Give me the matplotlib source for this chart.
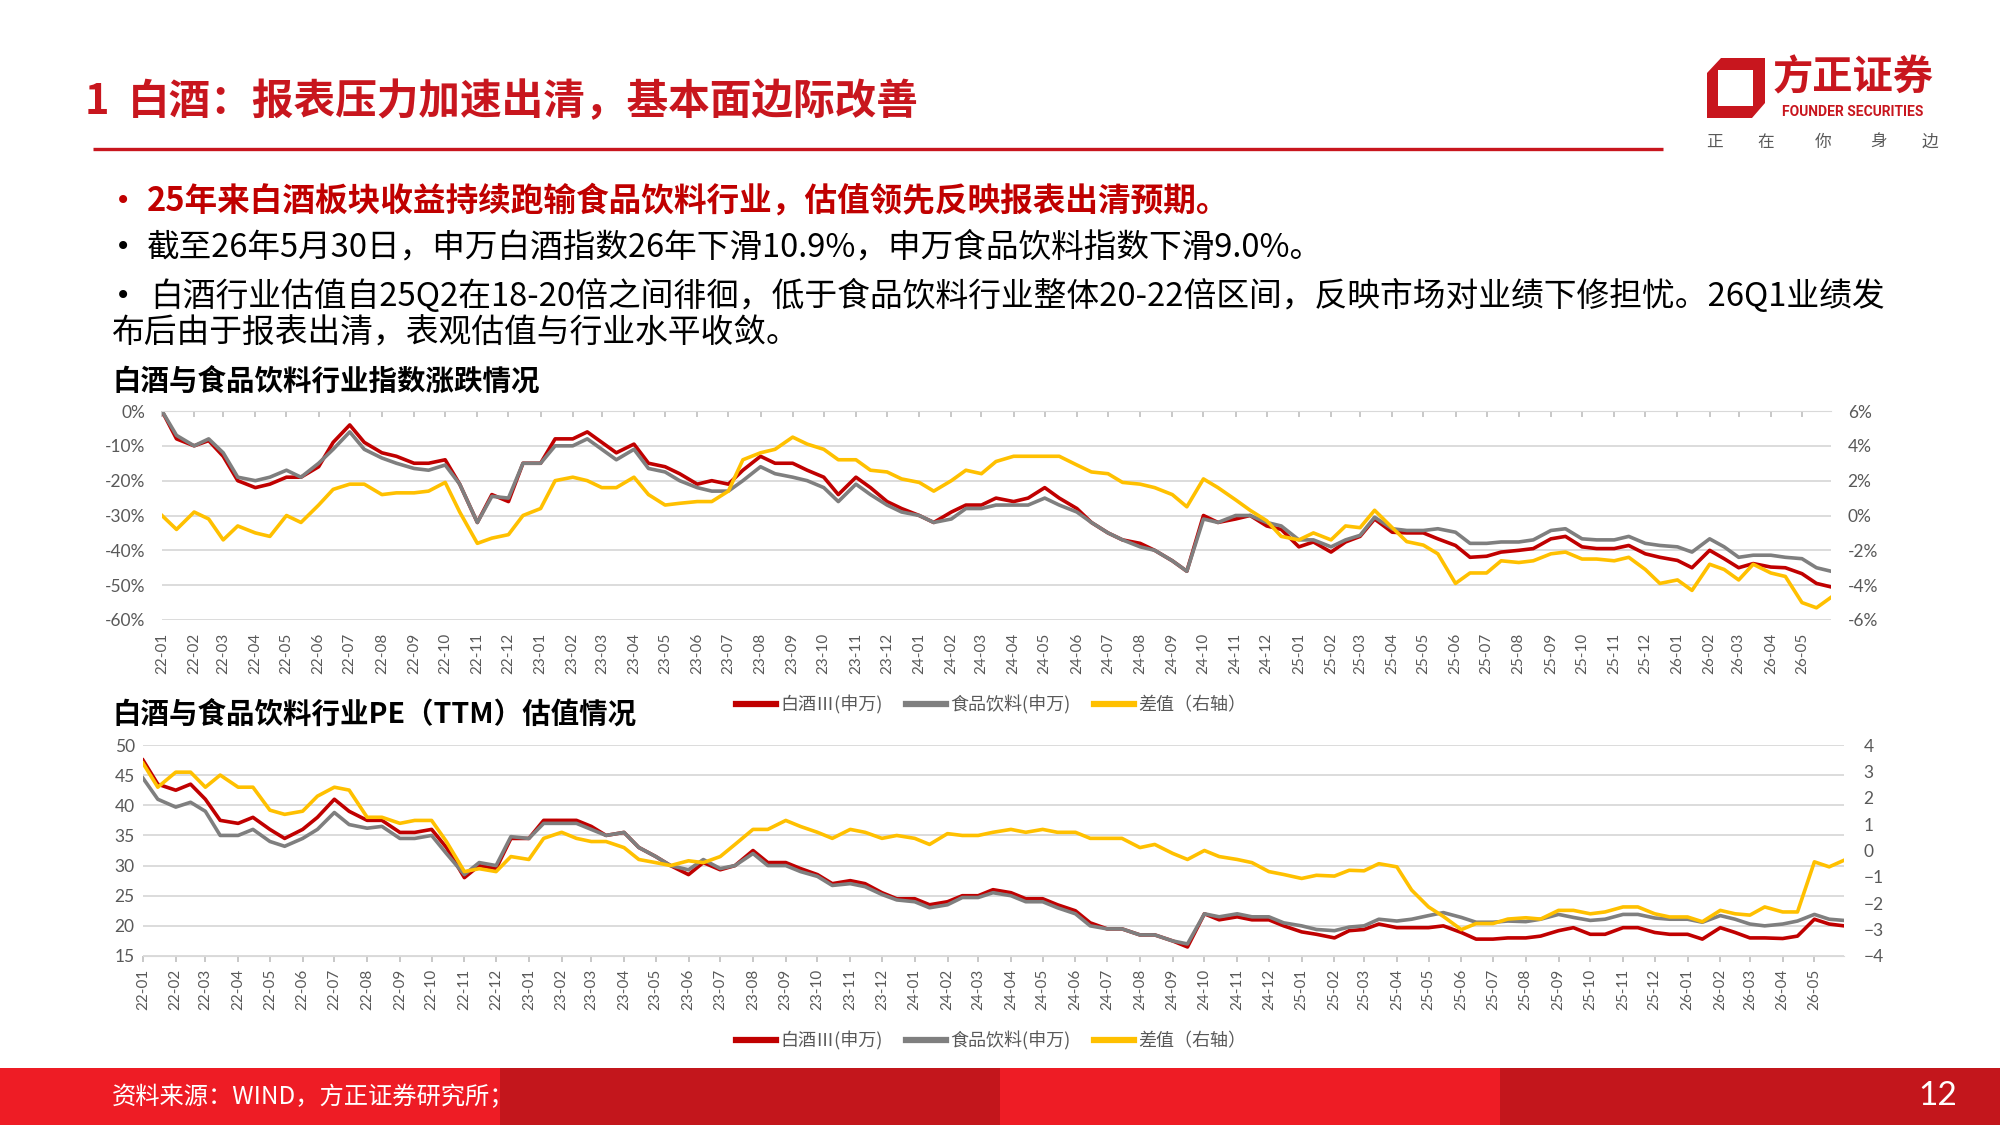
import numpy as np
import pandas as pd
import matplotlib
matplotlib.use('Agg')
from matplotlib import pyplot as plt
from matplotlib.lines import Line2D
from matplotlib.patches import Rectangle, Polygon
import matplotlib.ticker as mticker

plt.rcParams['font.family'] = ['Noto Sans CJK SC', 'DejaVu Sans']

# 半月取点：每月1日、15日，最后一个点是5月29日
dates = list(pd.date_range('2022-01-01', '2026-05-31', freq='SMS')) + [pd.Timestamp('2026-05-29')]
month_ticks = pd.date_range('2022-01-01', '2026-05-01', freq='MS')
month_labels = [d.strftime('%y-%m') for d in month_ticks]

# 图1：指数涨跌（%），差值为右轴
idx_baijiu = [0, -8, -10, -8.5, -13, -20, -22, -21, -19, -19, -16, -9, -4, -9, -12, -13, -15, -15, -14, -21, -32, -24, -26, -15,
              -15, -8, -8, -6, -9, -12, -9.5, -15, -16, -18, -21, -20, -21, -17, -13, -15, -15, -17, -19, -24, -19, -22, -26, -28,
              -30, -32, -29, -27, -27, -25, -26, -25, -22, -25, -28, -32, -35, -37, -38, -40, -43, -46, -30, -32, -31, -30, -33, -34,
              -39, -37.6, -40.5, -37.6, -36, -31, -34.8, -35, -35, -36.7, -38.6, -42, -41.7, -40.5, -40, -39.5, -36.7, -36, -39, -39.5, -39.5, -38.6, -41, -42,
              -42.9, -45, -40, -42.4, -45, -43.8, -44.8, -45, -46.7, -49.5, -50.5]
idx_food = [0, -7, -10, -8, -12, -19, -20, -19, -17, -19, -15, -11, -6, -11, -13.5, -15, -16.5, -17, -15.5, -21, -32, -24.5, -25, -15,
            -15, -10, -10, -8, -11, -14, -11, -16.5, -17.5, -20, -22, -23, -23, -20, -16, -18, -19, -20, -22, -26, -21, -24, -27, -29,
            -30, -32, -31, -28, -28, -27, -27, -27, -25, -27, -29, -32, -35, -37, -39, -40, -43, -46, -31, -32, -30, -30, -32, -33,
            -37, -37, -39, -37, -35.7, -30.5, -33.8, -34.3, -34.3, -33.8, -34.8, -38, -38, -37.6, -37.6, -37, -34.3, -33.8, -36.7, -37, -37, -36, -38, -38.6,
            -39, -40.5, -36.7, -39, -42, -41.4, -41.4, -42, -42.4, -45, -46]
idx_diff = [0, -0.8, 0.2, -0.2, -1.4, -0.6, -1.0, -1.2, 0, -0.4, 0.6, 1.5, 1.8, 1.8, 1.2, 1.3, 1.3, 1.4, 1.9, 0.2, -1.6, -1.3, -1.1, 0,
            0.4, 2.0, 2.2, 2.0, 1.6, 1.6, 2.2, 1.2, 0.6, 0.7, 0.8, 0.8, 1.4, 3.2, 3.6, 3.8, 4.5, 4.1, 3.8, 3.2, 3.2, 2.6, 2.5, 2.1,
            1.9, 1.4, 2.0, 2.6, 2.4, 3.1, 3.4, 3.4, 3.4, 3.4, 2.9, 2.5, 2.4, 1.9, 1.8, 1.6, 1.2, 0.5, 2.1, 1.6, 0.9, 0.3, -0.3, -1.2,
            -1.4, -1.0, -1.4, -0.6, -0.7, 0.3, -0.7, -1.5, -1.7, -2.2, -3.9, -3.3, -3.3, -2.6, -2.7, -2.6, -2.2, -2.1, -2.5, -2.5, -2.6, -2.4, -3.1, -3.9,
            -3.7, -4.3, -2.8, -3.1, -3.7, -2.8, -3.3, -3.5, -5.0, -5.3, -4.7]

# 图2：PE(TTM)，差值为右轴
pe_baijiu = [47.5, 43.5, 42.5, 43.5, 41, 37.5, 37, 38, 36, 34.5, 36, 38, 41, 39, 37.5, 37.5, 35.5, 35.5, 36, 33, 28, 30, 29.5, 34.5,
             34.5, 37.5, 37.5, 37.5, 36.5, 35, 35.5, 33, 31.5, 30, 28.5, 30.5, 29.3, 30, 32.5, 30.5, 30.5, 29.5, 28.5, 27, 27.5, 27, 25.5, 24.5,
             24.5, 23.5, 24, 25, 25, 26, 25.5, 24.5, 24.5, 23.5, 22.5, 20.5, 19.5, 19.5, 18.5, 18.5, 17.5, 16.5, 22, 21, 21.5, 21, 21, 20,
             19, 18.6, 18, 19.2, 19.4, 20.3, 19.7, 19.7, 19.7, 20, 18.9, 17.8, 17.8, 18, 18, 18.3, 19.2, 19.7, 18.6, 18.6, 19.7, 19.7, 18.9, 18.6,
             18.6, 17.8, 19.7, 18.9, 18, 18, 17.9, 18.3, 21.1, 20.3, 20]
pe_food = [44.5, 41, 39.7, 40.5, 39, 35, 35, 36, 34, 33.2, 34.5, 36, 38.8, 36.8, 36.2, 36.5, 34.5, 34.5, 35, 32, 28.5, 30.5, 30, 34.8,
           34.5, 37, 37, 37, 36, 35, 35.5, 33, 31.5, 30, 29.3, 31, 29.5, 30, 32, 30, 30, 29, 28.2, 26.7, 27, 26.5, 25.2, 24.3,
           24, 23, 23.5, 24.7, 24.7, 25.5, 25, 24, 24, 23, 22, 20, 19.5, 19.5, 18.5, 18.5, 17.5, 17, 22, 21.5, 22, 21.5, 21.5, 20.5,
           20, 19.4, 19.2, 19.8, 20, 21.1, 20.8, 21.1, 21.7, 22.2, 21.4, 20.6, 20.6, 20.8, 20.7, 21.1, 21.9, 21.4, 20.9, 21.1, 21.9, 21.9, 21.3, 21.1,
           21.1, 20.6, 21.7, 21.1, 20.3, 20, 20.3, 20.8, 21.9, 21.1, 20.9]
pe_diff = [3.31, 2.4, 2.97, 2.97, 2.4, 2.86, 2.4, 2.4, 1.53, 1.37, 1.49, 2.06, 2.4, 2.29, 1.26, 1.26, 1.03, 1.14, 1.14, 0.34, -0.8, -0.69, -0.8, -0.23,
           -0.34, 0.46, 0.69, 0.46, 0.34, 0.34, 0.11, -0.34, -0.46, -0.57, -0.39, -0.46, -0.23, 0.23, 0.8, 0.8, 1.14, 0.91, 0.69, 0.46, 0.8, 0.69, 0.46, 0.57,
           0.46, 0.23, 0.64, 0.57, 0.57, 0.69, 0.8, 0.69, 0.8, 0.69, 0.69, 0.46, 0.46, 0.46, 0.11, 0.23, -0.11, -0.34, 0, -0.23, -0.34, -0.46, -0.8, -0.91,
           -1.06, -0.94, -0.97, -0.75, -0.77, -0.5, -0.62, -1.5, -2.14, -2.5, -3.0, -2.77, -2.77, -2.6, -2.55, -2.6, -2.27, -2.27, -2.4, -2.33, -2.14, -2.14, -2.4, -2.52,
           -2.52, -2.7, -2.27, -2.4, -2.45, -2.14, -2.33, -2.33, -0.43, -0.62, -0.37]

legend_labels = ['白酒Ⅲ(申万)', '食品饮料(申万)', '差值（右轴）']

RED = '#C00000'
GRAY = '#7F7F7F'
YEL = '#FFC000'
TXT = '#595959'
GRID = '#D9D9D9'
BRAND = '#C8161E'

W, H = 2000, 1125
fig = plt.figure(figsize=(20, 11.25), dpi=100)
fig.patch.set_facecolor('white')

# 页面背景层，像素坐标
bg = fig.add_axes([0, 0, 1, 1], zorder=0)
bg.set_xlim(0, W)
bg.set_ylim(H, 0)
bg.axis('off')

bg.text(85, 102, '1', color=BRAND, fontsize=30, fontweight='bold', va='center')
bg.text(128, 102, '白酒：报表压力加速出清，基本面边际改善', color=BRAND, fontsize=30,
        fontweight='bold', va='center')
bg.plot([93, 1663], [149, 149], color=BRAND, lw=2.4, solid_capstyle='butt')

# logo
bg.add_patch(Polygon([(1721, 58), (1765, 58), (1765, 103), (1752, 118), (1707, 118), (1707, 73)],
                     closed=True, color=BRAND, lw=0))
bg.add_patch(Rectangle((1718, 70), 35, 36, color='white', lw=0))
bg.text(1853, 78, '方正证券', color=BRAND, fontsize=29, fontweight='bold', ha='center', va='center')
bg.text(1853, 112, 'FOUNDER SECURITIES', color=BRAND, fontsize=10, fontweight='bold', ha='center',
        va='center', family='Roboto')
for cx, ch in zip([1714, 1766, 1823, 1879, 1930], '正在你身边'):
    bg.text(cx, 142, ch, color=TXT, fontsize=12, ha='center', va='center')

# 要点
bg.text(115, 201, '•', color=RED, fontsize=20, va='center', family='DejaVu Sans')
bg.text(147, 201, '25年来白酒板块收益持续跑输食品饮料行业，估值领先反映报表出清预期。', color=RED,
        fontsize=23.5, fontweight='bold', va='center')
bg.text(115, 247, '•', color='black', fontsize=20, va='center', family='DejaVu Sans')
bg.text(147, 247, '截至26年5月30日，申万白酒指数26年下滑10.9%，申万食品饮料指数下滑9.0%。', color='black',
        fontsize=23.5, va='center')
bg.text(115, 296, '•', color='black', fontsize=20, va='center', family='DejaVu Sans')
bg.text(150, 296, '白酒行业估值自25Q2在18-20倍之间徘徊，低于食品饮料行业整体20-22倍区间，反映市场对业绩下修担忧。26Q1业绩发',
        color='black', fontsize=23.6, va='center')
bg.text(112, 333, '布后由于报表出清，表观估值与行业水平收敛。', color='black', fontsize=23.6, va='center')

bg.text(112, 381, '白酒与食品饮料行业指数涨跌情况', color='black', fontsize=20.5, fontweight='bold', va='center')
bg.text(112, 714, '白酒与食品饮料行业PE（TTM）估值情况', color='black', fontsize=20.5, fontweight='bold', va='center')

# 底部色带
for i, c in enumerate(['#EE1C25', '#C3161C', '#EE1C25', '#C3161C']):
    bg.add_patch(Rectangle((i * 500, 1068), 500, 57, color=c, lw=0))
bg.text(112, 1097, '资料来源：WIND，方正证券研究所；', color='white', fontsize=17.5, va='center')
bg.text(1938, 1096, '12', color='white', fontsize=24, ha='center', va='center', family='Lato')


def style_axes(ax, axr, xtop):
    ax.set_facecolor('none')
    for s in ax.spines.values():
        s.set_visible(False)
    for s in axr.spines.values():
        s.set_visible(False)
    ax.yaxis.grid(True, color=GRID, lw=1.3)
    ax.set_axisbelow(True)
    ax.set_xticks(month_ticks)
    ax.set_xticklabels(month_labels, rotation=90)
    ax.set_xlim(pd.Timestamp('2022-01-01'), pd.Timestamp('2026-05-29'))
    if xtop:
        ax.spines['top'].set_visible(True)
        ax.spines['top'].set_color(GRID)
        ax.tick_params(axis='x', top=True, bottom=False, labeltop=False, labelbottom=True,
                       direction='in', length=4, width=1.2, color='#BFBFBF', pad=9.5)
    else:
        ax.spines['bottom'].set_visible(True)
        ax.spines['bottom'].set_color(GRID)
        ax.tick_params(axis='x', direction='out', length=4, width=1.2, color='#BFBFBF', pad=5)
    ax.tick_params(axis='x', labelsize=11, labelcolor=TXT, labelfontfamily='Lato')
    ax.tick_params(axis='y', length=0, labelsize=12.5, labelcolor=TXT, labelfontfamily='Lato')
    axr.tick_params(axis='y', length=0, labelsize=12.5, labelcolor=TXT, labelfontfamily='Lato')


pct = mticker.FuncFormatter(lambda v, p: f'{int(round(v))}%')

# 图1
ax1 = fig.add_axes([162 / W, 1 - 620 / H, (1831 - 162) / W, (620 - 411) / H], zorder=2)
ax1r = ax1.twinx()
ax1.plot(dates, idx_baijiu, color=RED, lw=2.6, solid_joinstyle='round')
ax1.plot(dates, idx_food, color=GRAY, lw=2.6, solid_joinstyle='round')
ax1r.plot(dates, idx_diff, color=YEL, lw=2.6, solid_joinstyle='round')
ax1.set_ylim(-60, 0)
ax1.set_yticks(range(-60, 1, 10))
ax1.yaxis.set_major_formatter(pct)
ax1r.set_ylim(-6, 6)
ax1r.set_yticks(range(-6, 7, 2))
ax1r.yaxis.set_major_formatter(pct)
style_axes(ax1, ax1r, True)
ax1.tick_params(axis='y', pad=12)
ax1r.tick_params(axis='y', pad=12)

# 图2
ax2 = fig.add_axes([143 / W, 1 - 956 / H, (1844 - 143) / W, (956 - 745) / H], zorder=2)
ax2r = ax2.twinx()
ax2.plot(dates, pe_baijiu, color=RED, lw=2.6, solid_joinstyle='round')
ax2.plot(dates, pe_food, color=GRAY, lw=2.6, solid_joinstyle='round')
ax2r.plot(dates, pe_diff, color=YEL, lw=2.6, solid_joinstyle='round')
ax2.set_ylim(15, 50)
ax2.set_yticks(range(15, 51, 5))
ax2r.set_ylim(-4, 4)
ax2r.set_yticks(range(-4, 5, 1))
style_axes(ax2, ax2r, False)
ax2.tick_params(axis='y', pad=6)
ax2r.tick_params(axis='y', pad=14)

handles = [Line2D([], [], color=c, lw=4.5) for c in (RED, GRAY, YEL)]
for ly in (705, 1041):
    fig.legend(handles, legend_labels, loc='center', bbox_to_anchor=(991 / W, 1 - ly / H), ncol=3,
               frameon=False, fontsize=13, labelcolor=TXT, handlelength=2.2, handletextpad=0.25,
               columnspacing=1.3)

fig.savefig('out.png', dpi=100)
